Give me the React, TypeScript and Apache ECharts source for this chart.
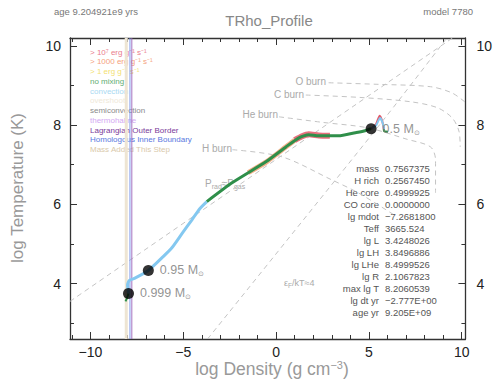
import React, { useEffect, useRef } from "react";
import * as echarts from "echarts";

// ---- data ----
const X_MIN = -11.1, X_MAX = 10.2, Y_MIN = 2.6, Y_MAX = 10.2;
const xMajor = [-10, -5, 0, 5, 10];
const xMinor = [-11, -9, -8, -7, -6, -4, -3, -2, -1, 1, 2, 3, 4, 6, 7, 8, 9];
const yMajor = [4, 6, 8, 10];
const yMinor = [3, 5, 7, 9];

// profile (log rho, log T)
const profileGreenTail: number[][] = [[-8.11, 3.55], [-8.0, 3.67], [-7.95, 3.75]];
const profileBlue: number[][] = [
  [-7.95, 3.75], [-8.0, 3.97], [-7.9, 4.08], [-7.63, 4.13], [-6.88, 4.33], [-6.08, 4.68],
  [-5.6, 4.91], [-5.07, 5.26], [-4.53, 5.61], [-4.11, 5.89], [-3.73, 6.07],
];
const profileGreen: number[][] = [
  [-3.73, 6.07], [-2.35, 6.55], [-0.53, 7.08], [0.53, 7.45], [1.23, 7.68], [1.76, 7.76],
  [2.29, 7.73], [3.36, 7.73], [4.27, 7.81], [4.8, 7.86], [5.12, 7.91],
];
const profileRedHot: number[][] = [[1.0, 7.62], [1.4, 7.72], [1.76, 7.77], [2.3, 7.74], [2.9, 7.73]];
const profileOrange: number[][] = [[-1.5, 6.8], [-0.5, 7.08], [0.5, 7.44], [1.0, 7.62]];
const spikeRed: number[][] = [[5.12, 7.91], [5.39, 8.03], [5.58, 8.24], [5.72, 8.1], [5.8, 7.9]];
const spikeBlue: number[][] = [[5.15, 7.92], [5.4, 8.0], [5.6, 8.18], [5.74, 8.06], [5.82, 7.88]];
const spikeGreen: number[][] = [[5.8, 7.9], [5.82, 7.85], [6.03, 7.83]];

const dots: { pos: number[]; mass: string; }[] = [
  { pos: [-7.95, 3.75], mass: "0.999" },
  { pos: [-6.88, 4.33], mass: "0.95" },
  { pos: [5.12, 7.91], mass: "0.5" },
];

// reference lines
const pradLine: number[][] = [[-11.1, 3.55], [9.5, 10.2]];
const degenLine: number[][] = [[-3.69, 2.6], [0.6, 5.1], [5.9, 8.2], [9.2, 10.2]];
const oBurn: number[][] = [[2.83, 9.07], [5.5, 9.03], [8.32, 8.97], [9.49, 8.81], [10.29, 8.54]];
const cBurn: number[][] = [[1.6, 8.76], [4.5, 8.7], [7.25, 8.59], [8.69, 8.44], [9.49, 8.18], [9.85, 7.85], [9.92, 7.45]];
const heBurn: number[][] = [[0.16, 8.21], [2.5, 8.07], [4.96, 7.93], [7.0, 7.65], [8.32, 7.45], [8.59, 7.12], [8.59, 6.29]];
const hBurn: number[][] = [[-2.35, 7.38], [0.32, 7.2], [2.99, 6.62], [4.43, 6.29], [6.3, 5.75]];

const vBeige = -8.07, vBlue = -7.87, vPurple = -7.77;

const legendItems: { text: string; color: string }[] = [
  { text: "> 10\u2077 erg g\u207B\u00B9 s\u207B\u00B9", color: "#ea7c8c" },
  { text: "> 1000 erg g\u207B\u00B9 s\u207B\u00B9", color: "#f5a27e" },
  { text: "> 1 erg g\u207B\u00B9 s\u207B\u00B9", color: "#f3df72" },
  { text: "no mixing", color: "#5fae72" },
  { text: "convection", color: "#a9d9f2" },
  { text: "overshoot", color: "#efe9d9" },
  { text: "semiconvection", color: "#8a8a8a" },
  { text: "thermohaline", color: "#d3a9f2" },
  { text: "Lagrangian Outer Border", color: "#7a3a9a" },
  { text: "Homologous Inner Boundary", color: "#5a78e0" },
  { text: "Mass Added This Step", color: "#d9c9ab" },
];

const statLabels = ["mass", "H rich", "He core", "CO core", "lg mdot", "Teff", "lg L", "lg LH", "lg LHe", "lg R", "max lg T", "lg dt yr", "age yr"];
const statValues = ["0.7567375", "0.2567450", "0.4999925", "0.0000000", "\u22127.2681800", "3665.524", "3.4248026", "3.8496886", "8.4999526", "2.1067823", "8.2060539", "\u22122.777E+00", "9.205E+09"];

const FONT = "Liberation Sans, Arial, sans-serif";
const fmt = (v: number) => (v < 0 ? "\u2212" + Math.abs(v) : String(v));

function App() {
  const ref = useRef<HTMLDivElement>(null);
  useEffect(() => {
    const chart = echarts.init(ref.current!, null, { renderer: "svg" });
    const axisLine = { show: true, onZero: false, lineStyle: { color: "#333", width: 1.3 } };
    const mkX = (pos: "bottom" | "top", major: boolean, labels: boolean) => ({
      type: "value", min: X_MIN, max: X_MAX, position: pos, gridIndex: 0,
      axisLine: major ? axisLine : { show: false, onZero: false },
      axisTick: { show: true, inside: true, length: major ? 7 : 4, customValues: major ? xMajor : xMinor, lineStyle: { color: "#333" } },
      axisLabel: labels ? { show: true, customValues: xMajor, formatter: fmt, color: "#222", fontSize: 14, fontFamily: FONT, margin: 6 } : { show: false },
      splitLine: { show: false },
    });
    const mkY = (pos: "left" | "right", major: boolean, labels: boolean) => ({
      type: "value", min: Y_MIN, max: Y_MAX, position: pos, gridIndex: 0,
      axisLine: major ? axisLine : { show: false, onZero: false },
      axisTick: { show: true, inside: true, length: major ? 7 : 4, customValues: major ? yMajor : yMinor, lineStyle: { color: "#333" } },
      axisLabel: labels ? { show: true, customValues: yMajor, formatter: fmt, color: "#222", fontSize: 14, fontFamily: FONT, margin: pos === "left" ? 9 : 11 } : { show: false },
      splitLine: { show: false },
    });
    const dash = (data: number[][]) => ({
      type: "line", data, symbol: "none", silent: true, smooth: 0.3,
      lineStyle: { color: "#c4c4c4", width: 1, type: [5, 4] }, z: 1,
    });
    const solid = (data: number[][], color: string, width: number, z: number) => ({
      type: "line", data, symbol: "none", silent: true, smooth: 0.2,
      lineStyle: { color, width }, z,
    });
    const vline = (x: number, color: string, width: number) => ({
      type: "line", data: [[x, Y_MIN], [x, Y_MAX]], symbol: "none", silent: true,
      lineStyle: { color, width }, z: 2,
    });
    const sub = { fontSize: 7, color: "#777", fontFamily: FONT, padding: [7, 0, 0, 0] };
    const dotLabel = { fontSize: 12.5, color: "#777", fontFamily: FONT };

    const graphics: any[] = [
      { type: "text", left: 54, top: 6, style: { text: "age 9.204921e9 yrs", fill: "#777", font: `9.5px ${FONT}` } },
      { type: "text", right: 22, top: 6, style: { text: "model 7780", fill: "#777", font: `9.5px ${FONT}` } },
      { type: "text", x: 269, y: 20, style: { text: "TRho_Profile", fill: "#888", font: `15px ${FONT}`, align: "center", verticalAlign: "middle" } },
      {
        type: "text", x: 272, y: 369,
        style: {
          text: "{a|log Density (g cm}{s|\u22123}{a|)}", align: "center", verticalAlign: "middle",
          rich: { a: { fontSize: 17.5, fill: "#999", fontFamily: FONT }, s: { fontSize: 11, fill: "#999", fontFamily: FONT, padding: [0, 0, 8, 0] } },
        },
      },
      {
        type: "text", x: 17, y: 188, rotation: Math.PI / 2,
        style: { text: "log Temperature (K)", fill: "#999", font: `17px ${FONT}`, align: "center", verticalAlign: "middle" },
      },
    ];
    legendItems.forEach((it, i) => {
      graphics.push({ type: "text", left: 90, top: 48 + i * 9.75, style: { text: it.text, fill: it.color, font: `8px ${FONT}` } });
    });
    statLabels.forEach((l, i) => {
      graphics.push({ type: "text", x: 379, y: 168 + i * 12, style: { text: l, fill: "#555", font: `9.5px ${FONT}`, align: "right", verticalAlign: "middle" } });
      graphics.push({ type: "text", x: 385, y: 168 + i * 12, style: { text: statValues[i], fill: "#555", font: `9.5px ${FONT}`, align: "left", verticalAlign: "middle" } });
    });
    const burnLbl = (x: number, y: number, t: string) => ({ type: "text", x, y, style: { text: t, fill: "#aaa", font: `10px ${FONT}`, align: "right", verticalAlign: "middle" } });
    graphics.push(burnLbl(326, 81, "O burn"), burnLbl(304, 94, "C burn"), burnLbl(278, 114, "He burn"), burnLbl(232, 148, "H burn"));
    graphics.push({
      type: "text", x: 205, y: 183,
      style: {
        text: "{a|P}{s|rad}{a|\u2248P}{s|gas}", verticalAlign: "middle",
        rich: { a: { fontSize: 10, fill: "#aaa", fontFamily: FONT }, s: { fontSize: 7, fill: "#aaa", fontFamily: FONT, padding: [6, 0, 0, 0] } },
      },
    });
    graphics.push({
      type: "text", x: 284, y: 283,
      style: {
        text: "{a|\u03B5}{s|F}{a|/kT\u22484}", verticalAlign: "middle",
        rich: { a: { fontSize: 9, fill: "#aaa", fontFamily: FONT }, s: { fontSize: 6.5, fill: "#aaa", fontFamily: FONT, padding: [5, 0, 0, 0] } },
      },
    });

    chart.setOption({
      animation: false,
      backgroundColor: "#fff",
      grid: { left: 70, right: 26, top: 38, bottom: 40, containLabel: false },
      xAxis: [mkX("bottom", true, true), mkX("bottom", false, false), mkX("top", true, false), mkX("top", false, false)],
      yAxis: [mkY("left", true, true), mkY("left", false, false), mkY("right", true, true), mkY("right", false, false)],
      series: [
        dash(pradLine), dash(degenLine), dash(oBurn), dash(cBurn), dash(heBurn), dash(hBurn),
        vline(vBeige, "#eee5d3", 3), vline(vBlue, "#7090ea", 0.9), vline(vPurple, "#9a60b8", 0.9),
        solid(profileOrange, "#f6b08a", 5, 3),
        solid(profileRedHot, "#e8707e", 6, 3),
        solid(profileBlue, "#84c8f0", 3, 4),
        solid(profileGreen, "#2f8f4a", 3, 5),
        solid(profileGreenTail, "#2f8f4a", 2, 5),
        solid(spikeRed, "#e05a6a", 2, 5),
        solid(spikeBlue, "#84c8f0", 2, 6),
        solid(spikeGreen, "#2f8f4a", 2, 6),
        {
          type: "scatter", data: dots.map((d) => ({ value: d.pos, name: d.mass })), symbolSize: 11,
          itemStyle: { color: "#000" }, z: 10, silent: true,
          label: {
            show: true, position: "right", distance: 6,
            formatter: (p: any) => `{a|${p.name} M}{s|\u2299}`,
            rich: { a: dotLabel, s: sub },
          },
        },
      ],
      graphic: graphics,
    });
    return () => chart.dispose();
  }, []);
  return <div ref={ref} style={{ position: "fixed", left: 0, top: 0, width: 495, height: 379 }} />;
}

export default App;
